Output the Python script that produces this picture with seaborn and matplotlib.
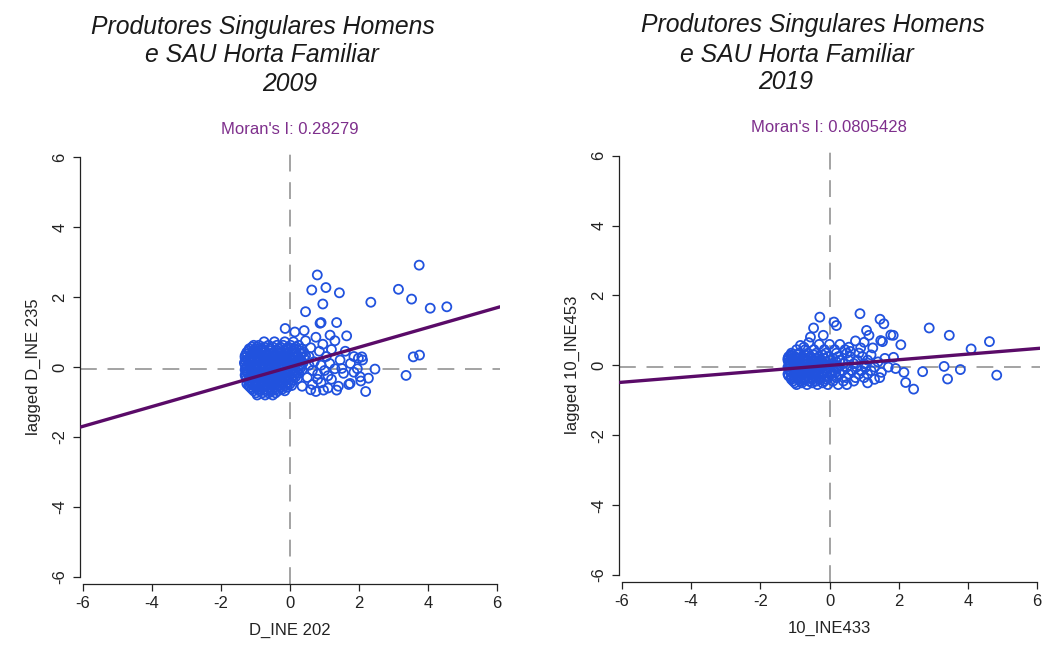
import matplotlib
matplotlib.use("Agg")
import matplotlib.pyplot as plt
import seaborn as sns
import pandas as pd

# ---------------- data ----------------
years = ["2009", "2019"]
title_line1 = "Produtores Singulares Homens"
title_line2 = "e SAU Horta Familiar"
x_labels = ["D_INE 202", "10_INE433"]
y_labels = ["lagged D_INE 235", "lagged 10_INE453"]
moran_values = [0.28279, 0.0805428]
moran_texts = ["Moran's I: 0.28279", "Moran's I: 0.0805428"]
lag_means = [-0.05, -0.06]
ticks = [-6, -4, -2, 0, 2, 4, 6]

# dense cluster, rows: lagged value -> list of standardized values
blob_2009 = {
    0.72: [-0.75, -0.45, -0.15, 0.1],
    0.62: [-1.05, -0.9, -0.62, -0.38, -0.2, 0.02, 0.25],
    0.52: [-1.18, -1.0, -0.8, -0.55, -0.33, -0.1, 0.12, 0.33],
    0.42: [-1.25, -1.08, -0.92, -0.7, -0.48, -0.27, -0.05, 0.18, 0.4],
    0.32: [-1.3, -1.12, -0.95, -0.78, -0.6, -0.4, -0.2, 0.0, 0.22, 0.45],
    0.22: [-1.22, -1.05, -0.85, -0.68, -0.5, -0.3, -0.12, 0.08, 0.3],
    0.12: [-1.32, -1.15, -0.97, -0.78, -0.58, -0.4, -0.22, -0.02, 0.18, 0.38],
    0.02: [-1.25, -1.08, -0.9, -0.7, -0.52, -0.33, -0.14, 0.06, 0.26],
    -0.08: [-1.3, -1.12, -0.95, -0.78, -0.6, -0.42, -0.24, -0.05, 0.15, 0.35],
    -0.18: [-1.22, -1.04, -0.86, -0.68, -0.5, -0.32, -0.13, 0.07, 0.25],
    -0.28: [-1.28, -1.1, -0.93, -0.75, -0.57, -0.4, -0.22, -0.03, 0.16],
    -0.38: [-1.2, -1.02, -0.84, -0.66, -0.48, -0.3, -0.12, 0.08],
    -0.48: [-1.25, -1.08, -0.9, -0.72, -0.55, -0.37, -0.2, 0.0],
    -0.58: [-1.15, -0.97, -0.8, -0.62, -0.45, -0.27, -0.08],
    -0.68: [-1.05, -0.88, -0.7, -0.52, -0.35, -0.15],
    -0.8: [-0.95, -0.72, -0.5],
}
blob_2009_fill = {
    0.57: [-1.1, -0.95, -0.75, -0.5, -0.28, -0.05, 0.17],
    0.47: [-1.2, -1.02, -0.82, -0.6, -0.38, -0.16, 0.05, 0.28],
    0.37: [-1.27, -1.05, -0.86, -0.65, -0.5, -0.3, -0.1, 0.1, 0.32],
    0.27: [-1.3, -1.15, -0.92, -0.75, -0.55, -0.35, -0.2, 0.0, 0.18, 0.4],
    0.17: [-1.28, -1.1, -0.9, -0.72, -0.5, -0.32, -0.15, 0.1, 0.28],
    0.07: [-1.3, -1.18, -1.0, -0.82, -0.62, -0.45, -0.25, -0.07, 0.12, 0.33],
    -0.03: [-1.28, -1.15, -0.98, -0.8, -0.62, -0.45, -0.28, -0.08, 0.1, 0.3],
    -0.13: [-1.25, -1.08, -0.9, -0.72, -0.55, -0.37, -0.18, 0.02, 0.2],
    -0.23: [-1.3, -1.12, -0.97, -0.8, -0.62, -0.45, -0.27, -0.08, 0.12],
    -0.33: [-1.25, -1.07, -0.88, -0.7, -0.52, -0.35, -0.17, 0.03, 0.22],
    -0.43: [-1.18, -0.98, -0.8, -0.6, -0.42, -0.25, -0.05],
    -0.53: [-1.2, -1.02, -0.85, -0.67, -0.5, -0.32, -0.13, 0.05],
    -0.63: [-1.1, -0.93, -0.75, -0.57, -0.4, -0.22],
    -0.74: [-0.98, -0.8, -0.62, -0.42],
}
spread_2009 = [
    (3.74, 2.91), (0.79, 2.63), (0.63, 2.2), (1.04, 2.27), (1.43, 2.12), (3.14, 2.22),
    (3.52, 1.94), (2.34, 1.85), (0.95, 1.8), (4.06, 1.68), (4.54, 1.72), (0.45, 1.58),
    (0.9, 1.27), (1.35, 1.27), (1.64, 0.89), (0.41, 1.04), (3.57, 0.29), (3.75, 0.34),
    (3.36, -0.24), (2.46, -0.06), (2.19, -0.7), (2.27, -0.32), (2.03, -0.28), (1.98, 0.25),
    (2.08, 0.29), (1.74, -0.47), (1.35, -0.66), (0.97, -0.66), (1.55, -0.18), (1.5, -0.04),
    (-0.14, 1.1), (0.14, 1.0), (0.87, 1.25), (1.16, 0.91),
    (0.45, 0.75), (0.6, 0.55), (0.75, 0.85), (0.55, 0.3), (0.7, 0.15), (0.85, 0.45),
    (0.95, 0.65), (1.05, 0.3), (1.2, 0.5), (1.3, 0.75), (1.45, 0.2), (1.6, 0.45),
    (1.75, 0.1), (1.85, 0.3), (1.95, -0.05), (2.1, 0.2), (0.5, -0.3), (0.65, -0.5),
    (0.8, -0.2), (0.9, -0.45), (1.0, -0.1), (1.1, -0.6), (1.2, -0.35), (1.3, -0.05),
    (1.4, -0.55), (1.7, -0.5), (1.85, -0.15), (2.05, -0.4), (0.6, -0.65), (0.75, -0.7),
    (0.55, 0.05), (0.35, -0.55), (0.65, -0.1), (0.9, 0.05), (1.15, 0.1), (0.8, -0.35),
    (1.1, -0.25),
]

blob_2019 = {
    0.45: [-0.95, -0.7, -0.45, -0.15, 0.15, 0.45],
    0.35: [-1.1, -0.88, -0.62, -0.38, -0.1, 0.2, 0.5, 0.85],
    0.25: [-1.18, -1.0, -0.78, -0.55, -0.3, -0.05, 0.25, 0.6, 0.95],
    0.15: [-1.2, -1.02, -0.85, -0.65, -0.45, -0.25, 0.0, 0.3, 0.55, 0.8, 1.1],
    0.05: [-1.15, -0.95, -0.75, -0.55, -0.35, -0.15, 0.1, 0.4, 0.7, 1.0],
    -0.05: [-1.2, -1.02, -0.82, -0.62, -0.42, -0.22, 0.0, 0.25, 0.5, 0.78, 1.05, 1.3],
    -0.15: [-1.15, -0.95, -0.75, -0.55, -0.35, -0.12, 0.12, 0.38, 0.65, 0.92, 1.2],
    -0.25: [-1.2, -1.0, -0.8, -0.6, -0.4, -0.2, 0.05, 0.3, 0.55, 0.85, 1.1],
    -0.35: [-1.12, -0.92, -0.72, -0.5, -0.28, -0.05, 0.2, 0.48, 0.75, 1.0],
    -0.45: [-1.05, -0.82, -0.6, -0.38, -0.15, 0.1, 0.4, 0.7],
    -0.55: [-0.95, -0.65, -0.35, -0.05, 0.25],
}
blob_2019_fill = {
    0.3: [-1.12, -0.92, -0.7, -0.45, -0.2],
    0.2: [-1.2, -1.1, -0.9, -0.7, -0.5, -0.35, -0.15, 0.1],
    0.1: [-1.18, -1.05, -0.88, -0.68, -0.48, -0.3, -0.1, 0.2],
    0.0: [-1.15, -0.92, -0.72, -0.52, -0.32, -0.12, 0.12],
    -0.1: [-1.18, -1.05, -0.88, -0.68, -0.48, -0.28, -0.05, 0.2],
    -0.2: [-1.12, -0.9, -0.7, -0.5, -0.3, -0.08, 0.18],
    -0.3: [-1.18, -1.02, -0.85, -0.65, -0.45, -0.22, 0.08],
    -0.4: [-1.1, -0.9, -0.7, -0.5, -0.3, -0.08],
    -0.5: [-1.0, -0.8, -0.5, -0.2],
}
spread_2019 = [
    (-0.28, 1.38), (0.88, 1.48), (1.46, 1.32), (1.57, 1.19), (0.13, 1.24), (0.2, 1.14),
    (-0.46, 1.07), (2.88, 1.07), (3.46, 0.86), (4.62, 0.68), (4.09, 0.47), (1.07, 1.0),
    (1.14, 0.86), (1.0, 0.66), (1.53, 0.68), (1.84, 0.86), (2.06, 0.59), (1.85, 0.23),
    (1.91, -0.09), (2.15, -0.2), (2.2, -0.49), (2.43, -0.68), (2.69, -0.18), (3.31, -0.03),
    (3.41, -0.39), (3.78, -0.12), (4.83, -0.28), (-0.55, 0.81), (-0.18, 0.86), (-0.84, 0.57),
    (-1.08, 0.28), (0.56, 0.52), (-0.74, 0.52), (1.48, 0.71), (1.77, 0.87),
    (0.3, 0.6), (0.6, 0.4), (0.9, 0.5), (1.2, 0.3), (1.4, 0.1), (1.5, -0.2), (1.3, -0.4),
    (1.6, 0.2), (1.7, -0.05), (1.25, 0.5), (0.75, 0.7), (1.1, -0.5), (0.5, -0.55),
    (1.45, -0.35), (0.0, 0.6), (-0.3, 0.6), (-0.6, 0.65),
]


def build_frame(blobs, spread):
    xs, ys = [], []
    for blob in blobs:
        for yv, row in blob.items():
            for xv in row:
                xs.append(xv)
                ys.append(yv)
    for xv, yv in spread:
        xs.append(xv)
        ys.append(yv)
    return pd.DataFrame({"x": xs, "y": ys})


frames = [build_frame([blob_2009, blob_2009_fill], spread_2009),
          build_frame([blob_2019, blob_2019_fill], spread_2019)]

# ---------------- style ----------------
sns.set_theme(style="ticks")
plt.rcParams["font.family"] = ["Liberation Sans", "DejaVu Sans"]
plt.rcParams["xtick.major.size"] = 5
plt.rcParams["ytick.major.size"] = 5
plt.rcParams["xtick.major.width"] = 0.9
plt.rcParams["ytick.major.width"] = 0.9

W, H = 1044, 646
fig = plt.figure(figsize=(W / 100, H / 100), dpi=100)
fig.patch.set_facecolor("white")


def fx(px):
    return px / W


def fy(py):
    return 1 - py / H


# axes boxes in pixels: (left, top, right, bottom)
boxes = [(80, 150, 500, 584), (619, 147, 1040, 582)]
ylims = [(-6.2, 6.2), (-6.2, 6.25)]
title_pos = [((263, 27), (262, 55), (290, 84)), ((813, 25), (797, 55), (786, 82))]
moran_pos = [(290, 130), (829, 127)]

point_color = "#2152DE"
line_color = "#5A0B68"
dash_color = "#8A8A8A"

for i in range(2):
    l, t, r, b = boxes[i]
    ax = fig.add_axes([fx(l), fy(b), fx(r) - fx(l), fy(t) - fy(b)])
    df = frames[i]
    ax.axvline(0, color=dash_color, lw=1.1, ls=(0, (11, 7)), zorder=1)
    ax.axhline(lag_means[i], color=dash_color, lw=1.1, ls=(0, (11, 7)), zorder=1)
    sns.scatterplot(data=df, x="x", y="y", ax=ax, s=42, marker="o",
                    color=point_color, zorder=2, legend=False)
    coll = ax.collections[-1]
    coll.set_facecolor("none")
    coll.set_edgecolor(point_color)
    coll.set_linewidth(1.3)
    ax.axline((0, 0), slope=moran_values[i], color=line_color, lw=2.4, zorder=3)

    ax.set_xlim(-6.08, 6.08)
    ax.set_ylim(*ylims[i])
    ax.set_xticks(ticks)
    ax.set_yticks(ticks)
    ax.set_xticklabels([str(v) for v in ticks], fontsize=12)
    ax.set_yticklabels([str(v) for v in ticks], fontsize=12, rotation=90, va="center")
    ax.tick_params(axis="both", colors="#222222", pad=4)
    for lab in ax.get_xticklabels() + ax.get_yticklabels():
        lab.set_color("#222222")
    for side in ["top", "right"]:
        ax.spines[side].set_visible(False)
    ax.spines["left"].set_bounds(-6, 6)
    ax.spines["bottom"].set_bounds(-6, 6)
    for side in ["left", "bottom"]:
        ax.spines[side].set_color("#222222")
        ax.spines[side].set_linewidth(0.9)
    ax.set_xlabel(x_labels[i], fontsize=12, color="#222222", labelpad=8)
    ax.set_ylabel(y_labels[i], fontsize=12, color="#222222", labelpad=8)
    ax.set_facecolor("white")

    (p1, p2, p3) = title_pos[i]
    for (px, py), txt in zip((p1, p2, p3), (title_line1, title_line2, years[i])):
        fig.text(fx(px), fy(py), txt, ha="center", va="center",
                 fontsize=17.8, style="italic", color="#1a1a1a")
    fig.text(fx(moran_pos[i][0]), fy(moran_pos[i][1]), moran_texts[i],
             ha="center", va="center", fontsize=12, color="#7E2F8C")

fig.savefig("out.png", dpi=100, facecolor="white")
